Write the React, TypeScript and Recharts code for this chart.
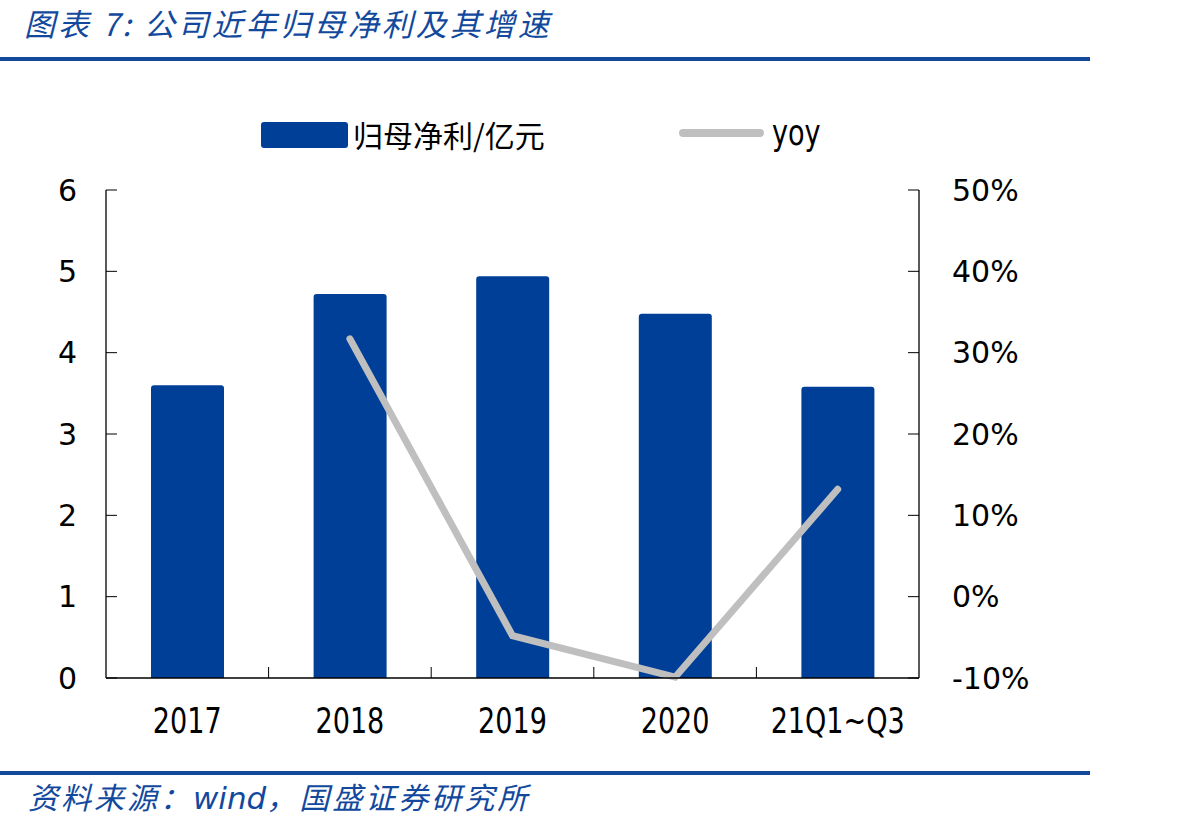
import React from 'react';
import { ComposedChart, Bar, Line, XAxis, YAxis } from 'recharts';

// 归母净利（亿元）与同比增速（%）
const categories = ['2017', '2018', '2019', '2020', '21Q1~Q3'];
const netProfit = [3.6, 4.72, 4.94, 4.48, 3.58];
const yoyGrowth: (number | null)[] = [null, 31.7, -4.8, -9.9, 13.2];

const leftTicks = [0, 1, 2, 3, 4, 5, 6];
const rightTicks = [-10, 0, 10, 20, 30, 40, 50];

const data = categories.map((category, i) => ({
  category,
  profit: netProfit[i],
  yoy: yoyGrowth[i],
}));

const BAR_BLUE = '#003F98';
const LINE_GREY = '#BFBFBF';
const BRAND_BLUE = '#13499D';
const CJK = '"Noto Sans CJK SC", "Noto Sans", sans-serif';
const CONDENSED = '"DejaVu Sans Condensed", "DejaVu Sans", sans-serif';
const SANS = '"DejaVu Sans", Verdana, sans-serif';

// chart geometry
const CHART_W = 1192;
const CHART_H = 824;
const LEFT_AXIS_W = 106;
const RIGHT_AXIS_W = 273;
const PLOT_W = CHART_W - LEFT_AXIS_W - RIGHT_AXIS_W;
const BAND_W = PLOT_W / categories.length;
const CAT_TICK_MARGIN = 30;
const INNER_TICK = 11;

const axisText = { fill: '#000', fontSize: 30, fontFamily: SANS };

// Category label, plus an inward tick mark on the boundary left of each category
function CategoryTick(props: any) {
  const { x, y, payload, index } = props;
  const axisY = y - CAT_TICK_MARGIN;
  return (
    <g>
      {index > 0 && (
        <line
          x1={x - BAND_W / 2}
          x2={x - BAND_W / 2}
          y1={axisY}
          y2={axisY - INNER_TICK}
          stroke="#000"
          strokeWidth={1}
        />
      )}
      <g transform={`translate(${x},${y})`}>
        <text
          transform="scale(0.86,1)"
          textAnchor="middle"
          dy="0.72em"
          fill="#000"
          fontSize={35}
          fontFamily={CONDENSED}
        >
          {payload.value}
        </text>
      </g>
    </g>
  );
}

export default function App() {
  return (
    <div
      style={{
        position: 'absolute',
        left: 0,
        top: 0,
        width: CHART_W,
        height: CHART_H,
        background: '#fff',
        overflow: 'hidden',
      }}
    >
      {/* title */}
      <div
        style={{
          position: 'absolute',
          left: 24,
          top: 6,
          fontSize: 31,
          lineHeight: '34px',
          letterSpacing: 3,
          fontStyle: 'italic',
          fontFamily: CJK,
          color: BRAND_BLUE,
          whiteSpace: 'nowrap',
        }}
      >
        图表 7: 公司近年归母净利及其增速
      </div>
      <div style={{ position: 'absolute', left: 0, top: 57, width: 1090, height: 4, background: BRAND_BLUE }} />

      {/* legend */}
      <div style={{ position: 'absolute', left: 261, top: 122, width: 87, height: 26, borderRadius: 3, background: BAR_BLUE }} />
      <div
        style={{
          position: 'absolute',
          left: 353,
          top: 116,
          fontSize: 30,
          lineHeight: '36px',
          fontFamily: CJK,
          color: '#000',
          whiteSpace: 'nowrap',
        }}
      >
        归母净利/亿元
      </div>
      <div style={{ position: 'absolute', left: 679, top: 129, width: 85, height: 8, borderRadius: 4, background: LINE_GREY }} />
      <div
        style={{
          position: 'absolute',
          left: 772,
          top: 113,
          fontSize: 35,
          lineHeight: '40px',
          fontFamily: CONDENSED,
          color: '#000',
          whiteSpace: 'nowrap',
          transform: 'scaleX(0.86)',
          transformOrigin: 'left center',
        }}
      >
        yoy
      </div>

      <ComposedChart
        width={CHART_W}
        height={CHART_H}
        data={data}
        margin={{ top: 190, right: 0, bottom: 86, left: 0 }}
        style={{ position: 'absolute', left: 0, top: 0 }}
      >
        <XAxis
          xAxisId="cat"
          dataKey="category"
          height={60}
          tickLine={false}
          tickSize={0}
          tickMargin={CAT_TICK_MARGIN}
          axisLine={{ stroke: '#000', strokeWidth: 1.3 }}
          tick={<CategoryTick />}
          interval={0}
        />
        <YAxis
          yAxisId="left"
          orientation="left"
          width={LEFT_AXIS_W}
          domain={[0, 6]}
          ticks={leftTicks}
          tickSize={-INNER_TICK}
          tickMargin={40}
          axisLine={{ stroke: '#000', strokeWidth: 1.3 }}
          tickLine={{ stroke: '#000', strokeWidth: 1 }}
          tick={axisText}
        />
        <YAxis
          yAxisId="right"
          orientation="right"
          width={RIGHT_AXIS_W}
          domain={[-10, 50]}
          ticks={rightTicks}
          tickFormatter={(v: number) => `${v}%`}
          tickSize={-INNER_TICK}
          tickMargin={44}
          axisLine={{ stroke: '#000', strokeWidth: 1.3 }}
          tickLine={{ stroke: '#000', strokeWidth: 1 }}
          tick={axisText}
        />
        <Bar
          xAxisId="cat"
          yAxisId="left"
          dataKey="profit"
          barSize={73}
          fill={BAR_BLUE}
          radius={[3, 3, 0, 0]}
          isAnimationActive={false}
        />
        <Line
          xAxisId="cat"
          yAxisId="right"
          dataKey="yoy"
          type="linear"
          stroke={LINE_GREY}
          strokeWidth={7}
          strokeLinecap="round"
          dot={false}
          activeDot={false}
          connectNulls={false}
          isAnimationActive={false}
        />
      </ComposedChart>

      {/* source */}
      <div style={{ position: 'absolute', left: 0, top: 771, width: 1090, height: 4, background: BRAND_BLUE }} />
      <div
        style={{
          position: 'absolute',
          left: 28,
          top: 778,
          fontSize: 30,
          lineHeight: '36px',
          letterSpacing: 3,
          fontStyle: 'italic',
          fontFamily: CJK,
          color: BRAND_BLUE,
          whiteSpace: 'nowrap',
        }}
      >
        资料来源：
        <span style={{ fontFamily: SANS, letterSpacing: 0, fontSize: 31 }}>wind</span>
        ，国盛证券研究所
      </div>
    </div>
  );
}
